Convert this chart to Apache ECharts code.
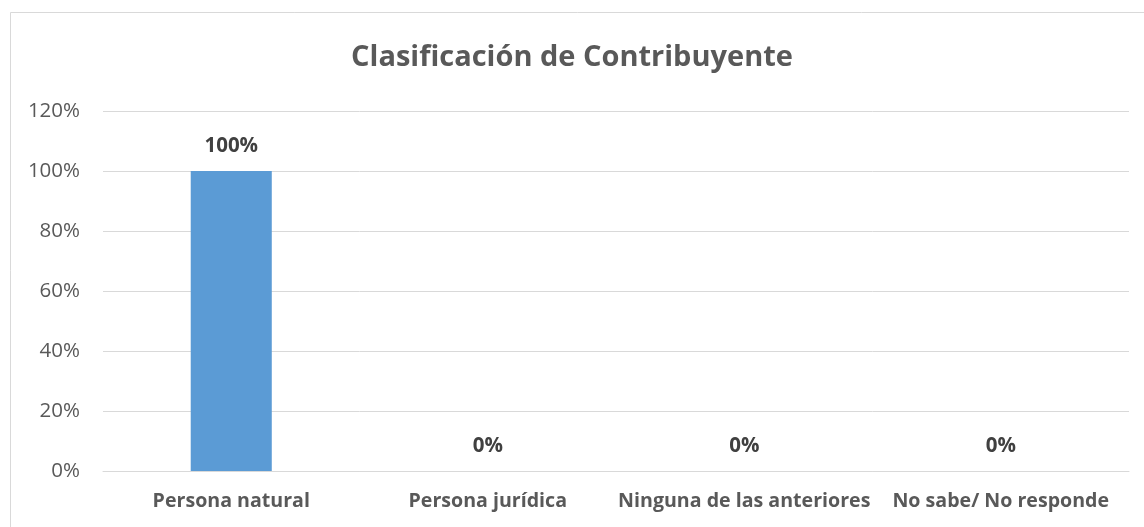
<!DOCTYPE html>
<html><head><meta charset="utf-8">
<script src="https://cdn.jsdelivr.net/npm/echarts@6/dist/echarts.min.js"></script>
<style>html,body{margin:0;padding:0;background:#fff}#c{width:1144px;height:527px}</style>
</head><body><div id="c"></div>
<script>
const title = 'Clasificación de Contribuyente';
const categories = ['Persona natural', 'Persona jurídica', 'Ninguna de las anteriores', 'No sabe/ No responde'];
const values = [100, 0, 0, 0];
const FONT = 'Open Sans';
const chart = echarts.init(document.getElementById('c'));
chart.setOption({
  animation: false,
  backgroundColor: '#fff',
  title: { text: title, left: 'center', top: 38, textStyle: { fontFamily: FONT, fontSize: 29, fontWeight: 'bold', color: '#595959' } },
  graphic: [{ type: 'rect', shape: { x: 10.5, y: 12.5, width: 1300, height: 700 }, style: { fill: 'none', stroke: '#d9d9d9', lineWidth: 1 }, silent: true }],
  grid: { left: 103, right: 15, top: 111, bottom: 56 },
  xAxis: { type: 'category', data: categories,
    axisLine: { lineStyle: { color: '#d9d9d9' } }, axisTick: { show: false },
    axisLabel: { interval: 0, fontFamily: FONT, fontSize: 19.6, fontWeight: 'bold', color: '#595959', margin: 20 } },
  yAxis: { type: 'value', min: 0, max: 120, interval: 20,
    axisLine: { show: false }, axisTick: { show: false },
    splitLine: { lineStyle: { color: '#d9d9d9' } },
    axisLabel: { formatter: v => v + '%', fontFamily: FONT, fontSize: 20.5, color: '#595959', margin: 23 } },
  series: [{ type: 'bar', data: values, barWidth: '31.6%', itemStyle: { color: '#5B9BD5' },
    label: { show: true, position: 'top', distance: 14, formatter: p => p.value + '%', fontFamily: FONT, fontSize: 20.5, fontWeight: 'bold', color: '#404040' } }]
});
</script></body></html>
